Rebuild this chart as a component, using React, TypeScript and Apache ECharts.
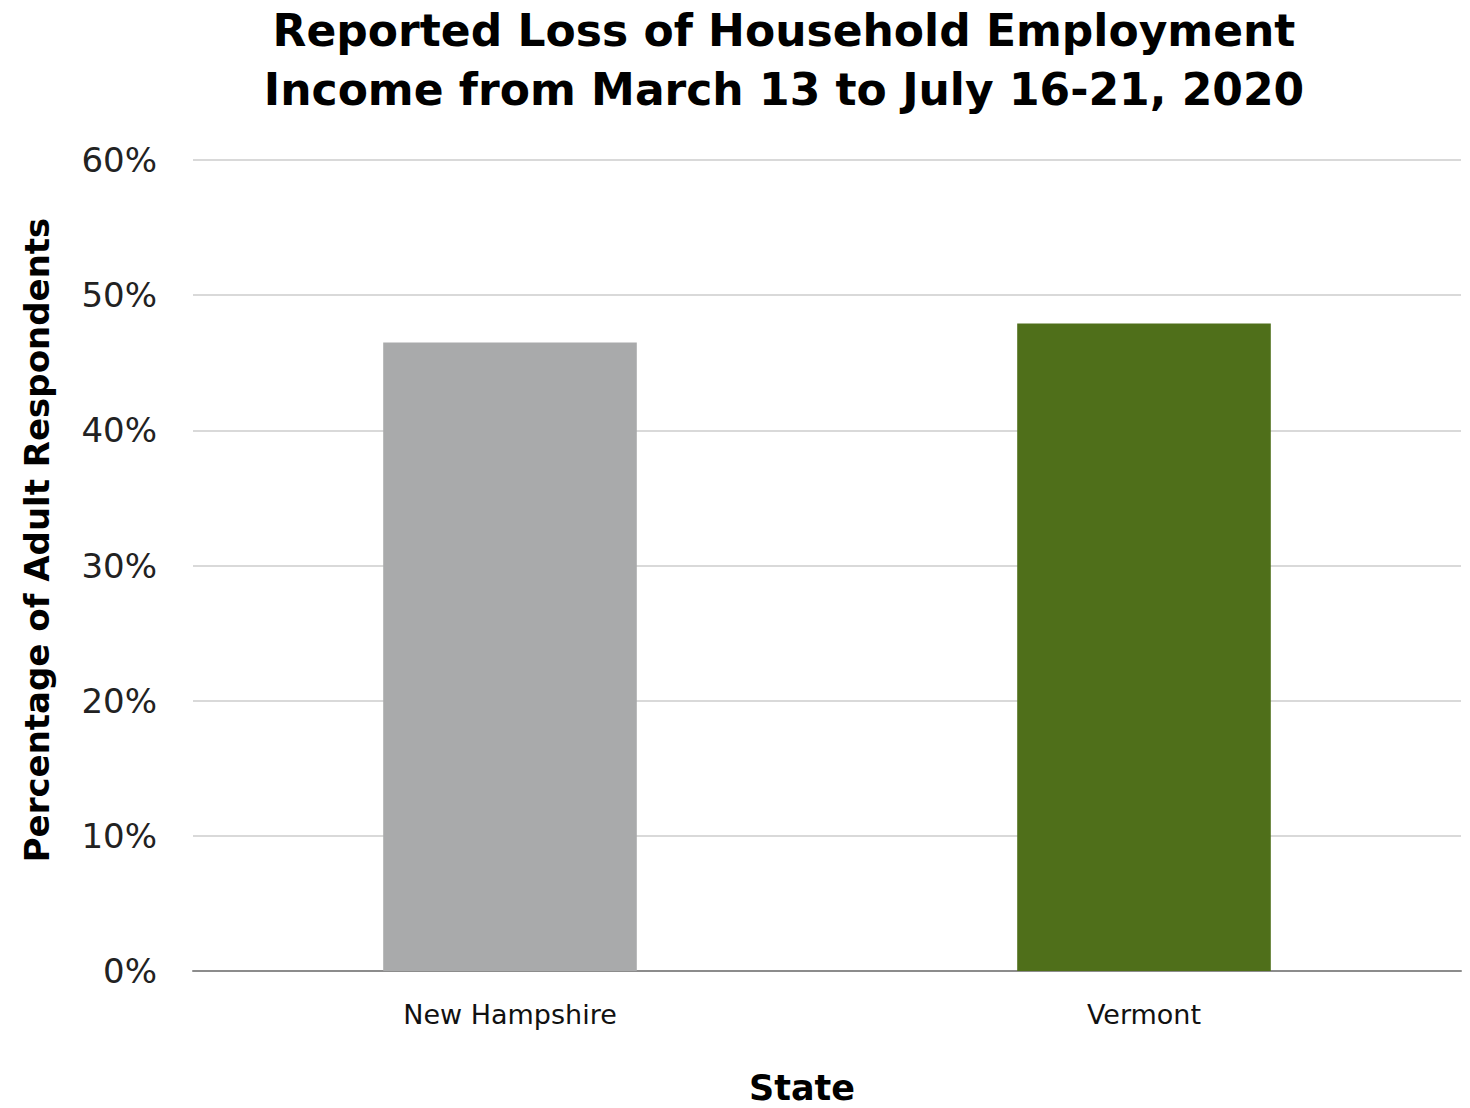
import React, { useEffect, useRef } from "react";
import * as echarts from "echarts";

const categories = ["New Hampshire", "Vermont"];
const values = [46.5, 47.9];
const barColors = ["#A9AAAB", "#4F6F1A"];
const yTicks = [0, 10, 20, 30, 40, 50, 60];
const titleLines = ["Reported Loss of Household Employment", "Income from March 13 to July 16-21, 2020"];
const xName = "State";
const yName = "Percentage of Adult Respondents";

export default function App() {
  const ref = useRef<HTMLDivElement>(null);
  useEffect(() => {
    const chart = echarts.init(ref.current!, null, { renderer: "svg", width: 1470, height: 1108 });
    chart.setOption({
      animation: false,
      backgroundColor: "#ffffff",
      textStyle: { fontFamily: "DejaVu Sans" },
      title: {
        text: titleLines.join("\n"),
        left: 779,
        textAlign: "center",
        top: -4,
        textStyle: { fontFamily: "DejaVu Sans", fontWeight: "bold", fontSize: 44, lineHeight: 59, color: "#000" },
      },
      grid: { left: 193, right: 9, top: 160, bottom: 137, containLabel: false },
      xAxis: {
        type: "category",
        data: categories,
        axisLine: { show: true, lineStyle: { color: "#8C8C8C", width: 2 } },
        axisTick: { show: false },
        axisLabel: { fontFamily: "DejaVu Sans", fontSize: 27, color: "#111", margin: 30 },
      },
      yAxis: {
        type: "value",
        min: yTicks[0],
        max: yTicks[yTicks.length - 1],
        interval: 10,
        axisLine: { show: false },
        axisTick: { show: false },
        splitLine: { lineStyle: { color: "#D9D9D9", width: 2 } },
        axisLabel: { fontFamily: "DejaVu Sans", fontSize: 34, color: "#222", margin: 36, formatter: "{value}%" },
      },
      graphic: [
        {
          type: "text",
          x: 37,
          y: 540,
          rotation: Math.PI / 2,
          style: {
            text: yName,
            fontFamily: "DejaVu Sans",
            fontWeight: "bold",
            fontSize: 34,
            lineHeight: 36,
            fill: "#000",
            textAlign: "center",
            textVerticalAlign: "middle",
          },
        },
        {
          type: "text",
          x: 802,
          y: 1088,
          style: {
            text: xName,
            fontFamily: "DejaVu Sans",
            fontWeight: "bold",
            fontSize: 35,
            lineHeight: 36,
            fill: "#000",
            textAlign: "center",
            textVerticalAlign: "middle",
          },
        },
      ],
      series: [
        {
          type: "bar",
          barWidth: "40%",
          data: values.map((v, i) => ({ value: v, itemStyle: { color: barColors[i] } })),
        },
      ],
    });
    return () => chart.dispose();
  }, []);
  return <div ref={ref} style={{ position: "absolute", left: 0, top: 0, width: 1470, height: 1108 }} />;
}
